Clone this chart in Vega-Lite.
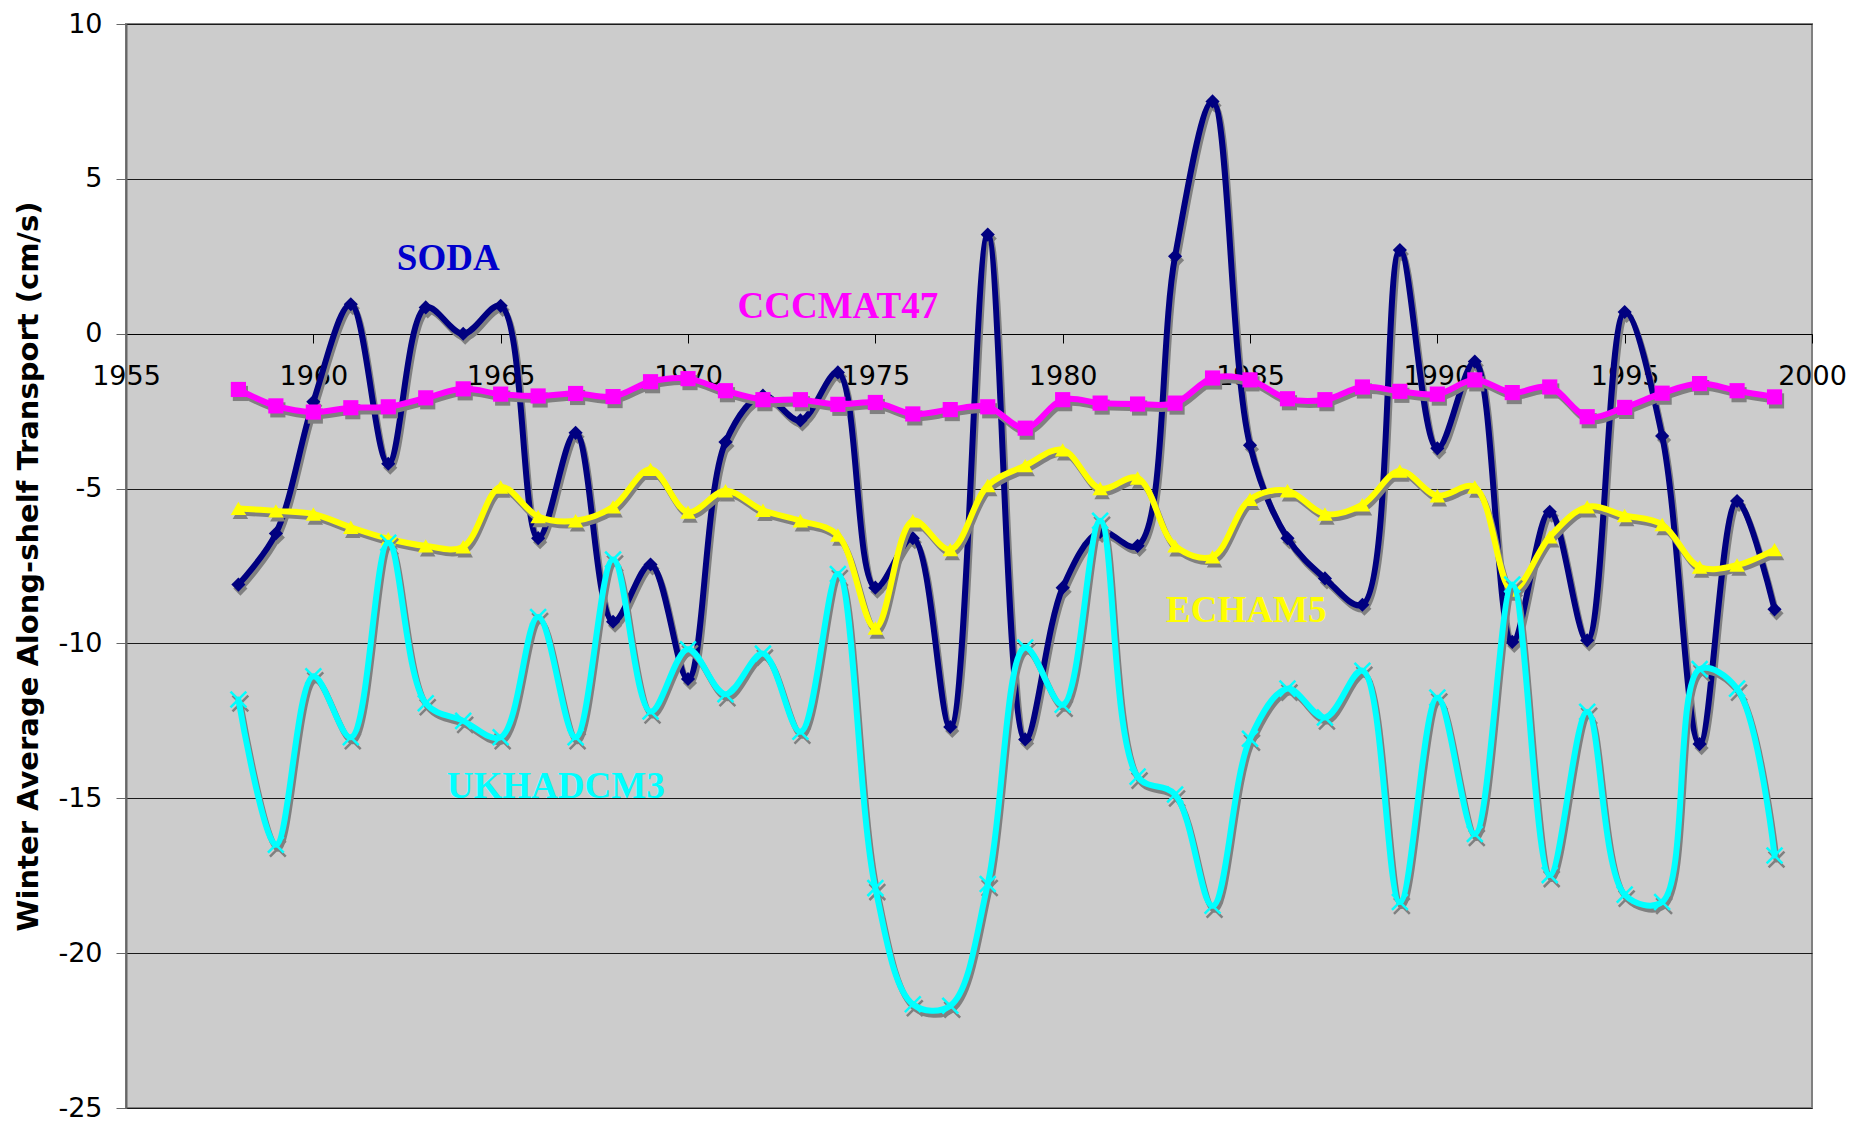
{
  "$schema": "https://vega.github.io/schema/vega-lite/v6.json",
  "width": 1686,
  "height": 1084,
  "autosize": {"type": "none"},
  "padding": {"left": 126, "top": 24, "right": 41, "bottom": 14},
  "background": "white",
  "config": {
    "view": {"fill": "#CCCCCC", "stroke": "#808080", "strokeWidth": 2},
    "axis": {"labelFont": "DejaVu Sans", "titleFont": "DejaVu Sans", "labelColor": "#000", "titleColor": "#000"},
    "line": {"strokeJoin": "round", "strokeCap": "round"}
  },
  "datasets": {
    "d": [
      {"s":"SODA","year":1958,"v":-8.1},{"s":"SODA","year":1959,"v":-6.45},{"s":"SODA","year":1960,"v":-2.2},{"s":"SODA","year":1961,"v":0.95},{"s":"SODA","year":1962,"v":-4.2},{"s":"SODA","year":1963,"v":0.85},{"s":"SODA","year":1964,"v":0.0},{"s":"SODA","year":1965,"v":0.9},{"s":"SODA","year":1966,"v":-6.6},{"s":"SODA","year":1967,"v":-3.2},{"s":"SODA","year":1968,"v":-9.3},{"s":"SODA","year":1969,"v":-7.45},{"s":"SODA","year":1970,"v":-11.15},{"s":"SODA","year":1971,"v":-3.5},{"s":"SODA","year":1972,"v":-2.0},{"s":"SODA","year":1973,"v":-2.8},{"s":"SODA","year":1974,"v":-1.25},{"s":"SODA","year":1975,"v":-8.2},{"s":"SODA","year":1976,"v":-6.6},{"s":"SODA","year":1977,"v":-12.7},{"s":"SODA","year":1978,"v":3.2},{"s":"SODA","year":1979,"v":-13.1},{"s":"SODA","year":1980,"v":-8.2},{"s":"SODA","year":1981,"v":-6.4},{"s":"SODA","year":1982,"v":-6.85},{"s":"SODA","year":1983,"v":2.5},{"s":"SODA","year":1984,"v":7.5},{"s":"SODA","year":1985,"v":-3.6},{"s":"SODA","year":1986,"v":-6.6},{"s":"SODA","year":1987,"v":-7.9},{"s":"SODA","year":1988,"v":-8.75},{"s":"SODA","year":1989,"v":2.7},{"s":"SODA","year":1990,"v":-3.7},{"s":"SODA","year":1991,"v":-0.9},{"s":"SODA","year":1992,"v":-9.95},{"s":"SODA","year":1993,"v":-5.75},{"s":"SODA","year":1994,"v":-9.9},{"s":"SODA","year":1995,"v":0.7},{"s":"SODA","year":1996,"v":-3.3},{"s":"SODA","year":1997,"v":-13.25},{"s":"SODA","year":1998,"v":-5.4},{"s":"SODA","year":1999,"v":-8.9},
      {"s":"CCCMAT47","year":1958,"v":-1.8},{"s":"CCCMAT47","year":1959,"v":-2.33},{"s":"CCCMAT47","year":1960,"v":-2.53},{"s":"CCCMAT47","year":1961,"v":-2.39},{"s":"CCCMAT47","year":1962,"v":-2.36},{"s":"CCCMAT47","year":1963,"v":-2.07},{"s":"CCCMAT47","year":1964,"v":-1.78},{"s":"CCCMAT47","year":1965,"v":-1.95},{"s":"CCCMAT47","year":1966,"v":-2.01},{"s":"CCCMAT47","year":1967,"v":-1.93},{"s":"CCCMAT47","year":1968,"v":-2.03},{"s":"CCCMAT47","year":1969,"v":-1.55},{"s":"CCCMAT47","year":1970,"v":-1.45},{"s":"CCCMAT47","year":1971,"v":-1.84},{"s":"CCCMAT47","year":1972,"v":-2.13},{"s":"CCCMAT47","year":1973,"v":-2.13},{"s":"CCCMAT47","year":1974,"v":-2.28},{"s":"CCCMAT47","year":1975,"v":-2.22},{"s":"CCCMAT47","year":1976,"v":-2.59},{"s":"CCCMAT47","year":1977,"v":-2.45},{"s":"CCCMAT47","year":1978,"v":-2.36},{"s":"CCCMAT47","year":1979,"v":-3.05},{"s":"CCCMAT47","year":1980,"v":-2.13},{"s":"CCCMAT47","year":1981,"v":-2.24},{"s":"CCCMAT47","year":1982,"v":-2.27},{"s":"CCCMAT47","year":1983,"v":-2.24},{"s":"CCCMAT47","year":1984,"v":-1.43},{"s":"CCCMAT47","year":1985,"v":-1.49},{"s":"CCCMAT47","year":1986,"v":-2.1},{"s":"CCCMAT47","year":1987,"v":-2.13},{"s":"CCCMAT47","year":1988,"v":-1.72},{"s":"CCCMAT47","year":1989,"v":-1.86},{"s":"CCCMAT47","year":1990,"v":-1.95},{"s":"CCCMAT47","year":1991,"v":-1.49},{"s":"CCCMAT47","year":1992,"v":-1.9},{"s":"CCCMAT47","year":1993,"v":-1.72},{"s":"CCCMAT47","year":1994,"v":-2.68},{"s":"CCCMAT47","year":1995,"v":-2.38},{"s":"CCCMAT47","year":1996,"v":-1.92},{"s":"CCCMAT47","year":1997,"v":-1.61},{"s":"CCCMAT47","year":1998,"v":-1.84},{"s":"CCCMAT47","year":1999,"v":-2.04},
      {"s":"ECHAM5","year":1958,"v":-5.64},{"s":"ECHAM5","year":1959,"v":-5.72},{"s":"ECHAM5","year":1960,"v":-5.82},{"s":"ECHAM5","year":1961,"v":-6.25},{"s":"ECHAM5","year":1962,"v":-6.62},{"s":"ECHAM5","year":1963,"v":-6.85},{"s":"ECHAM5","year":1964,"v":-6.88},{"s":"ECHAM5","year":1965,"v":-4.95},{"s":"ECHAM5","year":1966,"v":-5.9},{"s":"ECHAM5","year":1967,"v":-6.04},{"s":"ECHAM5","year":1968,"v":-5.59},{"s":"ECHAM5","year":1969,"v":-4.38},{"s":"ECHAM5","year":1970,"v":-5.76},{"s":"ECHAM5","year":1971,"v":-5.07},{"s":"ECHAM5","year":1972,"v":-5.7},{"s":"ECHAM5","year":1973,"v":-6.04},{"s":"ECHAM5","year":1974,"v":-6.5},{"s":"ECHAM5","year":1975,"v":-9.5},{"s":"ECHAM5","year":1976,"v":-6.04},{"s":"ECHAM5","year":1977,"v":-6.97},{"s":"ECHAM5","year":1978,"v":-4.9},{"s":"ECHAM5","year":1979,"v":-4.26},{"s":"ECHAM5","year":1980,"v":-3.75},{"s":"ECHAM5","year":1981,"v":-5.0},{"s":"ECHAM5","year":1982,"v":-4.66},{"s":"ECHAM5","year":1983,"v":-6.85},{"s":"ECHAM5","year":1984,"v":-7.2},{"s":"ECHAM5","year":1985,"v":-5.35},{"s":"ECHAM5","year":1986,"v":-5.07},{"s":"ECHAM5","year":1987,"v":-5.82},{"s":"ECHAM5","year":1988,"v":-5.52},{"s":"ECHAM5","year":1989,"v":-4.43},{"s":"ECHAM5","year":1990,"v":-5.23},{"s":"ECHAM5","year":1991,"v":-4.95},{"s":"ECHAM5","year":1992,"v":-8.28},{"s":"ECHAM5","year":1993,"v":-6.56},{"s":"ECHAM5","year":1994,"v":-5.59},{"s":"ECHAM5","year":1995,"v":-5.87},{"s":"ECHAM5","year":1996,"v":-6.16},{"s":"ECHAM5","year":1997,"v":-7.53},{"s":"ECHAM5","year":1998,"v":-7.47},{"s":"ECHAM5","year":1999,"v":-6.97},
      {"s":"UKHADCM3","year":1958,"v":-11.81},{"s":"UKHADCM3","year":1959,"v":-16.5},{"s":"UKHADCM3","year":1960,"v":-11.06},{"s":"UKHADCM3","year":1961,"v":-13.03},{"s":"UKHADCM3","year":1962,"v":-6.75},{"s":"UKHADCM3","year":1963,"v":-11.93},{"s":"UKHADCM3","year":1964,"v":-12.5},{"s":"UKHADCM3","year":1965,"v":-13.03},{"s":"UKHADCM3","year":1966,"v":-9.15},{"s":"UKHADCM3","year":1967,"v":-13.03},{"s":"UKHADCM3","year":1968,"v":-7.29},{"s":"UKHADCM3","year":1969,"v":-12.2},{"s":"UKHADCM3","year":1970,"v":-10.19},{"s":"UKHADCM3","year":1971,"v":-11.64},{"s":"UKHADCM3","year":1972,"v":-10.33},{"s":"UKHADCM3","year":1973,"v":-12.85},{"s":"UKHADCM3","year":1974,"v":-7.76},{"s":"UKHADCM3","year":1975,"v":-17.9},{"s":"UKHADCM3","year":1976,"v":-21.65},{"s":"UKHADCM3","year":1977,"v":-21.7},{"s":"UKHADCM3","year":1978,"v":-17.77},{"s":"UKHADCM3","year":1979,"v":-10.13},{"s":"UKHADCM3","year":1980,"v":-11.98},{"s":"UKHADCM3","year":1981,"v":-6.04},{"s":"UKHADCM3","year":1982,"v":-14.3},{"s":"UKHADCM3","year":1983,"v":-14.88},{"s":"UKHADCM3","year":1984,"v":-18.47},{"s":"UKHADCM3","year":1985,"v":-13.08},{"s":"UKHADCM3","year":1986,"v":-11.46},{"s":"UKHADCM3","year":1987,"v":-12.39},{"s":"UKHADCM3","year":1988,"v":-10.88},{"s":"UKHADCM3","year":1989,"v":-18.35},{"s":"UKHADCM3","year":1990,"v":-11.75},{"s":"UKHADCM3","year":1991,"v":-16.15},{"s":"UKHADCM3","year":1992,"v":-8.1},{"s":"UKHADCM3","year":1993,"v":-17.48},{"s":"UKHADCM3","year":1994,"v":-12.21},{"s":"UKHADCM3","year":1995,"v":-18.11},{"s":"UKHADCM3","year":1996,"v":-18.35},{"s":"UKHADCM3","year":1997,"v":-10.83},{"s":"UKHADCM3","year":1998,"v":-11.46},{"s":"UKHADCM3","year":1999,"v":-16.85}
    ],
    "lab": [
      {"s":"SODA","year":1963.6,"v":2.42},
      {"s":"CCCMAT47","year":1974.0,"v":0.87},
      {"s":"ECHAM5","year":1984.9,"v":-8.94},
      {"s":"UKHADCM3","year":1966.47,"v":-14.65}
    ]
  },
  "data": {"name": "d"},
  "encoding": {
    "x": {
      "field": "year", "type": "quantitative",
      "scale": {"domain": [1955, 2000], "nice": false, "zero": false},
      "axis": {
        "values": [1955,1960,1965,1970,1975,1980,1985,1990,1995,2000],
        "format": "d", "title": null, "offset": -774, "grid": false,
        "domainColor": "#000", "domainWidth": 1, "tickColor": "#000", "tickSize": 9, "tickWidth": 1,
        "labelFontSize": 27, "labelPadding": 20, "labelFlush": false, "labelOverlap": false
      }
    },
    "y": {
      "field": "v", "type": "quantitative",
      "scale": {"domain": [-25, 10], "nice": false, "zero": false},
      "axis": {
        "values": [-25,-20,-15,-10,-5,0,5,10],
        "labelExpr": "'' + datum.value",
        "title": "Winter Average Along-shelf Transport (cm/s)",
        "grid": true, "gridColor": "#1a1a1a", "gridWidth": 1,
        "domainColor": "#666", "domainWidth": 2, "tickColor": "#666", "tickSize": 10, "tickWidth": 1,
        "labelFontSize": 27, "labelPadding": 14,
        "titleFontSize": 29, "titleFontWeight": "bold",
        "titleX": -89, "titleY": 542, "titleAngle": -90, "titleAlign": "center", "titleBaseline": "alphabetic"
      }
    }
  },
  "layer": [
    {
      "transform": [{"filter": "datum.s === 'SODA'"}],
      "layer": [
        {"mark": {"type": "line", "interpolate": "catmull-rom", "color": "#808080", "strokeWidth": 6, "xOffset": 2, "yOffset": 4}},
        {"mark": {"type": "point", "shape": "diamond", "filled": true, "opacity": 1, "color": "#808080", "size": 200, "xOffset": 2, "yOffset": 4}},
        {"mark": {"type": "line", "interpolate": "catmull-rom", "color": "#000080", "strokeWidth": 6}},
        {"mark": {"type": "point", "shape": "diamond", "filled": true, "opacity": 1, "color": "#000080", "size": 200}}
      ]
    },
    {
      "transform": [{"filter": "datum.s === 'CCCMAT47'"}],
      "layer": [
        {"mark": {"type": "line", "interpolate": "catmull-rom", "color": "#808080", "strokeWidth": 6, "xOffset": 2, "yOffset": 4}},
        {"mark": {"type": "point", "shape": "square", "filled": true, "opacity": 1, "color": "#808080", "size": 230, "xOffset": 2, "yOffset": 4}},
        {"mark": {"type": "line", "interpolate": "catmull-rom", "color": "#FF00FF", "strokeWidth": 6}},
        {"mark": {"type": "point", "shape": "square", "filled": true, "opacity": 1, "color": "#FF00FF", "size": 230}}
      ]
    },
    {
      "transform": [{"filter": "datum.s === 'ECHAM5'"}],
      "layer": [
        {"mark": {"type": "line", "interpolate": "catmull-rom", "color": "#808080", "strokeWidth": 6, "xOffset": 2, "yOffset": 4}},
        {"mark": {"type": "point", "shape": "triangle-up", "filled": true, "opacity": 1, "color": "#808080", "size": 240, "xOffset": 2, "yOffset": 4}},
        {"mark": {"type": "line", "interpolate": "catmull-rom", "color": "#FFFF00", "strokeWidth": 6}},
        {"mark": {"type": "point", "shape": "triangle-up", "filled": true, "opacity": 1, "color": "#FFFF00", "size": 240}}
      ]
    },
    {
      "transform": [{"filter": "datum.s === 'UKHADCM3'"}],
      "layer": [
        {"mark": {"type": "line", "interpolate": "catmull-rom", "color": "#808080", "strokeWidth": 6, "xOffset": 2, "yOffset": 4}},
        {"mark": {"type": "point", "shape": "M-1,-1L1,1M-1,1L1,-1", "filled": false, "opacity": 1, "color": "#808080", "strokeWidth": 2.5, "size": 250, "xOffset": 2, "yOffset": 4}},
        {"mark": {"type": "line", "interpolate": "catmull-rom", "color": "#00FFFF", "strokeWidth": 6}},
        {"mark": {"type": "point", "shape": "M-1,-1L1,1M-1,1L1,-1", "filled": false, "opacity": 1, "color": "#00FFFF", "strokeWidth": 2.5, "size": 250}}
      ]
    },
    {
      "data": {"name": "lab"},
      "mark": {"type": "text", "font": "Liberation Serif", "fontWeight": "bold", "fontSize": 37, "align": "center", "baseline": "middle"},
      "encoding": {
        "text": {"field": "s"},
        "color": {
          "field": "s", "type": "nominal", "legend": null,
          "scale": {"domain": ["SODA","CCCMAT47","ECHAM5","UKHADCM3"], "range": ["#0000CC","#FF00FF","#FFFF00","#00FFFF"]}
        }
      }
    }
  ]
}
